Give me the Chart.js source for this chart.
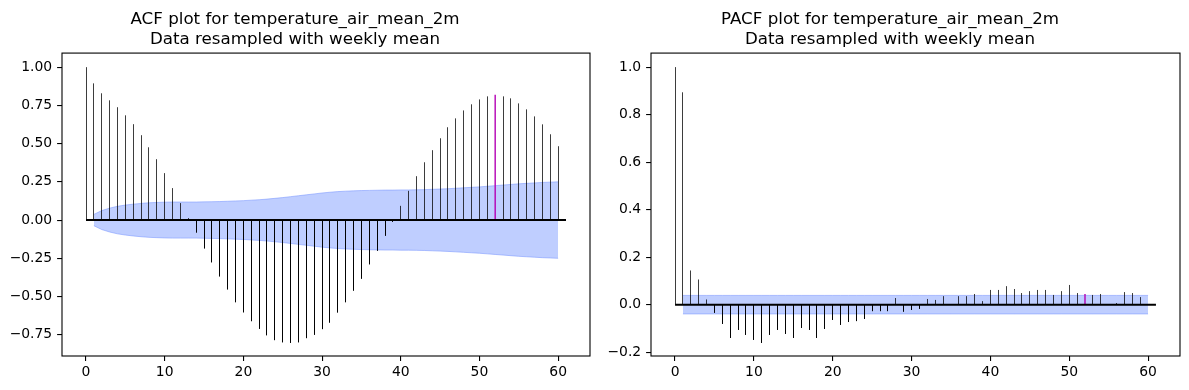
<!DOCTYPE html>
<html>
<head>
<meta charset="utf-8">
<script src="https://cdn.jsdelivr.net/npm/chart.js@4/dist/chart.umd.min.js"></script>
<style>
  html, body { margin: 0; padding: 0; background: #fff; }
  #wrap { position: relative; width: 1189px; height: 390px; }
  canvas { position: absolute; top: 0; }
</style>
</head>
<body>
<div id="wrap">
  <canvas id="acf" width="600" height="390" style="left:0px"></canvas>
  <canvas id="pacf" width="589" height="390" style="left:600px"></canvas>
</div>
<script>
// ---------- data ----------
const lags = Array.from({length: 61}, (_, i) => i);   // 0..60

const acfValues = [
  1.000, 0.894, 0.829, 0.783, 0.738, 0.685, 0.627, 0.555, 0.476, 0.398,
  0.307, 0.209, 0.111, 0.013, -0.081, -0.185, -0.276, -0.368, -0.453, -0.537,
  -0.603, -0.661, -0.711, -0.753, -0.785, -0.799, -0.803, -0.799, -0.772, -0.750,
  -0.713, -0.670, -0.604, -0.537, -0.461, -0.383, -0.289, -0.200, -0.102, -0.011,
  0.093, 0.191, 0.287, 0.378, 0.457, 0.535, 0.607, 0.665, 0.717, 0.757,
  0.789, 0.809, 0.820, 0.809, 0.796, 0.763, 0.724, 0.678, 0.626, 0.561,
  0.483
];

// half-width of the ACF confidence band, lags 1..60
const acfBand = [
  0.037, 0.062, 0.078, 0.090, 0.098, 0.104, 0.109, 0.113, 0.115, 0.117,
  0.118, 0.118, 0.118, 0.118, 0.119, 0.120, 0.121, 0.123, 0.125, 0.127,
  0.130, 0.133, 0.137, 0.142, 0.147, 0.153, 0.159, 0.165, 0.171, 0.177,
  0.182, 0.186, 0.189, 0.191, 0.193, 0.194, 0.195, 0.196, 0.196, 0.197,
  0.197, 0.198, 0.199, 0.201, 0.203, 0.205, 0.208, 0.211, 0.214, 0.217,
  0.221, 0.225, 0.229, 0.233, 0.237, 0.240, 0.243, 0.246, 0.248, 0.250
];

const pacfValues = [
  1.000, 0.894, 0.144, 0.106, 0.022, -0.034, -0.081, -0.140, -0.106, -0.127,
  -0.148, -0.161, -0.127, -0.106, -0.123, -0.140, -0.098, -0.106, -0.140, -0.102,
  -0.064, -0.085, -0.073, -0.069, -0.060, -0.027, -0.027, -0.027, 0.028, -0.029,
  -0.022, -0.017, 0.024, 0.020, 0.036, 0.002, 0.036, 0.036, 0.045, 0.015,
  0.062, 0.062, 0.078, 0.066, 0.049, 0.057, 0.062, 0.062, 0.041, 0.057,
  0.083, 0.049, 0.045, 0.041, 0.045, 0.001, 0.007, 0.053, 0.049, 0.032,
  0.002
];

// half-width of the PACF confidence band, lags 1..60
const pacfBand = Array(60).fill(0.039);

const highlightLag = 52;
const zeroLineEnd = 61;

const xTicks = [0, 10, 20, 30, 40, 50, 60];
const acfYTicks = [-0.75, -0.50, -0.25, 0.00, 0.25, 0.50, 0.75, 1.00];
const pacfYTicks = [-0.2, 0.0, 0.2, 0.4, 0.6, 0.8, 1.0];

const acfTitle = ['ACF plot for temperature_air_mean_2m', 'Data resampled with weekly mean'];
const pacfTitle = ['PACF plot for temperature_air_mean_2m', 'Data resampled with weekly mean'];

// ---------- chart construction ----------
const FONT = "'DejaVu Sans', sans-serif";
const TICK_FONT = { family: FONT, size: 13.9 };

function stemPoints(values, skipLag) {
  const pts = [];
  lags.forEach((k, i) => {
    if (k === skipLag) return;
    pts.push({x: k, y: 0}, {x: k, y: values[i]}, {x: k, y: null});
  });
  return pts;
}

const framePlugin = {
  id: 'frame',
  afterDraw(chart) {
    const a = chart.chartArea, ctx = chart.ctx;
    ctx.save();
    ctx.strokeStyle = '#000';
    ctx.lineWidth = 1.1;
    ctx.strokeRect(a.left, a.top, a.right - a.left, a.bottom - a.top);
    ctx.restore();
  }
};

// snap vertical stems to the pixel grid (like matplotlib's line snapping)
const snapPlugin = {
  id: 'snapStems',
  beforeDatasetDraw(chart, args) {
    const ds = chart.data.datasets[args.index];
    if (!ds.snapX) return;
    const ctx = chart.ctx;
    const mv = ctx.moveTo, ln = ctx.lineTo;
    ctx._origMoveTo = mv;
    ctx._origLineTo = ln;
    ctx.moveTo = function (x, y) { return mv.call(ctx, Math.round(x - 0.5) + 0.5, y); };
    ctx.lineTo = function (x, y) { return ln.call(ctx, Math.round(x - 0.5) + 0.5, y); };
  },
  afterDatasetDraw(chart, args) {
    const ds = chart.data.datasets[args.index];
    if (!ds.snapX) return;
    const ctx = chart.ctx;
    delete ctx.moveTo;
    delete ctx.lineTo;
  }
};

function makeChart(id, cfg) {
  const bandLags = lags.slice(1);
  const fmt = v => {
    const s = v.toFixed(cfg.decimals);
    return v < 0 ? '\u2212' + s.slice(1) : s;
  };
  return new Chart(document.getElementById(id), {
    type: 'line',
    data: {
      datasets: [
        { // zero line
          data: [{x: 0, y: 0}, {x: zeroLineEnd, y: 0}],
          borderColor: '#000', borderWidth: 2, pointRadius: 0, order: 0
        },
        { // highlighted seasonal lag
          data: [{x: highlightLag, y: 0}, {x: highlightLag, y: cfg.values[highlightLag]}],
          borderColor: '#b400b4', borderWidth: 1.4, pointRadius: 0, order: 1
        },
        { // stems
          data: stemPoints(cfg.values, highlightLag),
          borderColor: 'rgba(0,0,0,0.76)', borderWidth: 1, pointRadius: 0,
          spanGaps: false, order: 2, snapX: true,
          segment: { borderColor: () => undefined }
        },
        { // band upper
          data: bandLags.map((k, i) => ({x: k, y: cfg.band[i]})),
          borderColor: 'rgba(120,150,255,0.55)', borderWidth: 1, pointRadius: 0,
          fill: false, order: 3
        },
        { // band lower, filled to upper
          data: bandLags.map((k, i) => ({x: k, y: -cfg.band[i]})),
          borderColor: 'rgba(120,150,255,0.55)', borderWidth: 1, pointRadius: 0,
          fill: '-1', backgroundColor: 'rgb(191,206,255)', order: 4
        }
      ]
    },
    options: {
      responsive: false,
      animation: false,
      devicePixelRatio: 1,
      layout: { padding: { left: 0, right: cfg.padRight, top: 0, bottom: 0 } },
      elements: { line: { tension: 0 } },
      plugins: {
        legend: { display: false },
        tooltip: { enabled: false },
        title: {
          display: true,
          text: cfg.title,
          color: '#000',
          font: { family: FONT, size: 16.7, weight: 'normal', lineHeight: 1.2 },
          padding: { top: 10, bottom: 3 }
        }
      },
      scales: {
        x: {
          type: 'linear',
          min: -3.05, max: 64.05,
          afterBuildTicks: s => { s.ticks = xTicks.map(v => ({value: v})); },
          afterFit: s => { s.height = 34; },
          border: { display: false },
          grid: { drawOnChartArea: false, drawTicks: true, tickLength: 4.9, color: '#000', lineWidth: 1.1 },
          ticks: { color: '#000', font: TICK_FONT, padding: 3, maxRotation: 0, autoSkip: false,
                   callback: v => String(v) }
        },
        y: {
          type: 'linear',
          min: cfg.yMin, max: cfg.yMax,
          afterBuildTicks: s => { s.ticks = cfg.yTicks.map(v => ({value: v})); },
          afterFit: s => { s.width = cfg.yWidth; },
          border: { display: false },
          grid: { drawOnChartArea: false, drawTicks: true, tickLength: 4.9, color: '#000', lineWidth: 1.1 },
          ticks: { color: '#000', font: TICK_FONT, padding: 4.9, autoSkip: false,
                   callback: v => fmt(v) }
        }
      }
    },
    plugins: [framePlugin, snapPlugin]
  });
}

makeChart('acf', {
  values: acfValues, band: acfBand, title: acfTitle,
  yTicks: acfYTicks, yMin: -0.889, yMax: 1.092, decimals: 2,
  yWidth: 62, padRight: 10
});

makeChart('pacf', {
  values: pacfValues, band: pacfBand, title: pacfTitle,
  yTicks: pacfYTicks, yMin: -0.216, yMax: 1.059, decimals: 1,
  yWidth: 51, padRight: 9
});
</script>
</body>
</html>
